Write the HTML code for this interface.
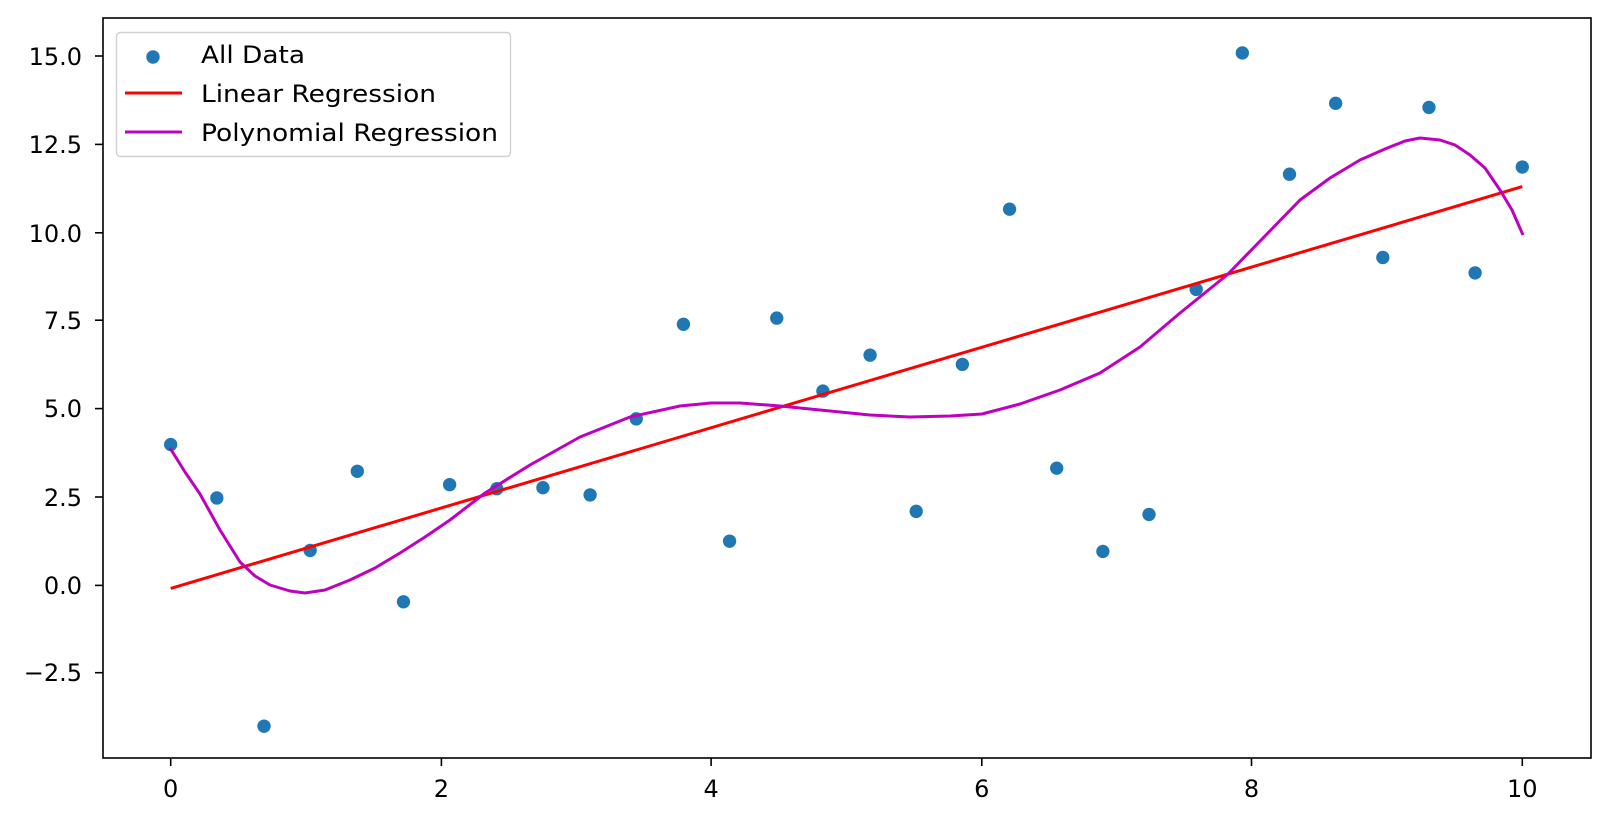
<!DOCTYPE html>
<html><head><meta charset="utf-8"><style>
body{margin:0;background:#fff;}
svg{display:block;font-family:"DejaVu Sans","Liberation Sans",sans-serif;}
</style></head><body>
<svg width="1609" height="822" xmlns="http://www.w3.org/2000/svg">
<rect width="1609" height="822" fill="#fff"/>
<g stroke="#000" stroke-width="1.6">
<line x1="170.7" y1="758" x2="170.7" y2="766"/><line x1="441.4" y1="758" x2="441.4" y2="766"/><line x1="711.1" y1="758" x2="711.1" y2="766"/><line x1="981.8" y1="758" x2="981.8" y2="766"/><line x1="1251.5" y1="758" x2="1251.5" y2="766"/><line x1="1522.3" y1="758" x2="1522.3" y2="766"/>
<line x1="95" y1="56" x2="103" y2="56"/><line x1="95" y1="144.4" x2="103" y2="144.4"/><line x1="95" y1="232.8" x2="103" y2="232.8"/><line x1="95" y1="320.2" x2="103" y2="320.2"/><line x1="95" y1="408.6" x2="103" y2="408.6"/><line x1="95" y1="497" x2="103" y2="497"/><line x1="95" y1="585.4" x2="103" y2="585.4"/><line x1="95" y1="672.7" x2="103" y2="672.7"/>
</g>
<g font-size="24" fill="#000" text-anchor="middle">
<text x="170.7" y="797">0</text><text x="441.4" y="797">2</text><text x="711.1" y="797">4</text><text x="981.8" y="797">6</text><text x="1251.5" y="797">8</text><text x="1522.3" y="797">10</text>
</g>
<g font-size="24" fill="#000" text-anchor="end">
<text x="82" y="65">15.0</text><text x="82" y="153">12.5</text><text x="82" y="242">10.0</text><text x="82" y="329">7.5</text><text x="82" y="417">5.0</text><text x="82" y="506">2.5</text><text x="82" y="594">0.0</text><text x="82" y="681">−2.5</text>
</g>
<g transform="translate(103,18) scale(1.0255,1.0278) translate(-100,-18)">
<g fill="#1f77b4">
<circle cx="166" cy="433" r="6.5"/><circle cx="211" cy="485" r="6.5"/><circle cx="257" cy="707" r="6.5"/><circle cx="302" cy="536" r="6.5"/><circle cx="348" cy="459" r="6.5"/><circle cx="393" cy="586" r="6.5"/><circle cx="438" cy="472" r="6.5"/><circle cx="484" cy="476" r="6.5"/><circle cx="529" cy="475" r="6.5"/><circle cx="575" cy="482" r="6.5"/><circle cx="620" cy="408" r="6.5"/><circle cx="666" cy="316" r="6.5"/><circle cx="711" cy="527" r="6.5"/><circle cx="757" cy="310" r="6.5"/><circle cx="802" cy="381" r="6.5"/><circle cx="848" cy="346" r="6.5"/><circle cx="893" cy="498" r="6.5"/><circle cx="938" cy="355" r="6.5"/><circle cx="984" cy="204" r="6.5"/><circle cx="1030" cy="456" r="6.5"/><circle cx="1075" cy="537" r="6.5"/><circle cx="1120" cy="501" r="6.5"/><circle cx="1166" cy="282" r="6.5"/><circle cx="1211" cy="52" r="6.5"/><circle cx="1257" cy="170" r="6.5"/><circle cx="1302" cy="101" r="6.5"/><circle cx="1348" cy="251" r="6.5"/><circle cx="1393" cy="105" r="6.5"/><circle cx="1438" cy="266" r="6.5"/><circle cx="1484" cy="163" r="6.5"/>
</g>
<line x1="166" y1="573" x2="1484" y2="182" stroke="#ff0000" stroke-width="2.9"/>
</g>
<polyline fill="none" stroke="#bf00bf" stroke-width="3" stroke-linejoin="round" points="170,448 185,472 200,494 220,530 240,562 255,576 270,585 290,591 305,593 325,590 350,580 375,568 400,553 425,537 450,520 485,493 530,465 580,437 630,417 680,406 711,403 740,403 780,406 830,411 870,415 910,417 950,416 982,414 1020,404 1060,390 1100,373 1140,347 1180,313 1227,275 1265,236 1300,200 1330,178 1360,160 1385,149 1405,141 1420,138 1440,140 1455,145 1470,155 1485,168 1500,190 1512,210 1523,235"/>
<rect x="103" y="18" width="1488" height="740" fill="none" stroke="#000" stroke-width="1.6"/>
<rect x="116.5" y="32.5" width="394" height="124" rx="4" fill="#fff" fill-opacity="0.8" stroke="#d0d0d0" stroke-width="1.4"/>
<circle cx="153" cy="57" r="6.7" fill="#1f77b4"/>
<line x1="125" y1="93" x2="182" y2="93" stroke="#ff0000" stroke-width="2.9"/>
<line x1="125" y1="132" x2="182" y2="132" stroke="#bf00bf" stroke-width="2.9"/>
<g font-size="24" fill="#000">
<text x="201" y="63" textLength="104" lengthAdjust="spacingAndGlyphs">All Data</text>
<text x="201" y="102" textLength="235" lengthAdjust="spacingAndGlyphs">Linear Regression</text>
<text x="201" y="141" textLength="297" lengthAdjust="spacingAndGlyphs">Polynomial Regression</text>
</g>
</svg>
</body></html>
